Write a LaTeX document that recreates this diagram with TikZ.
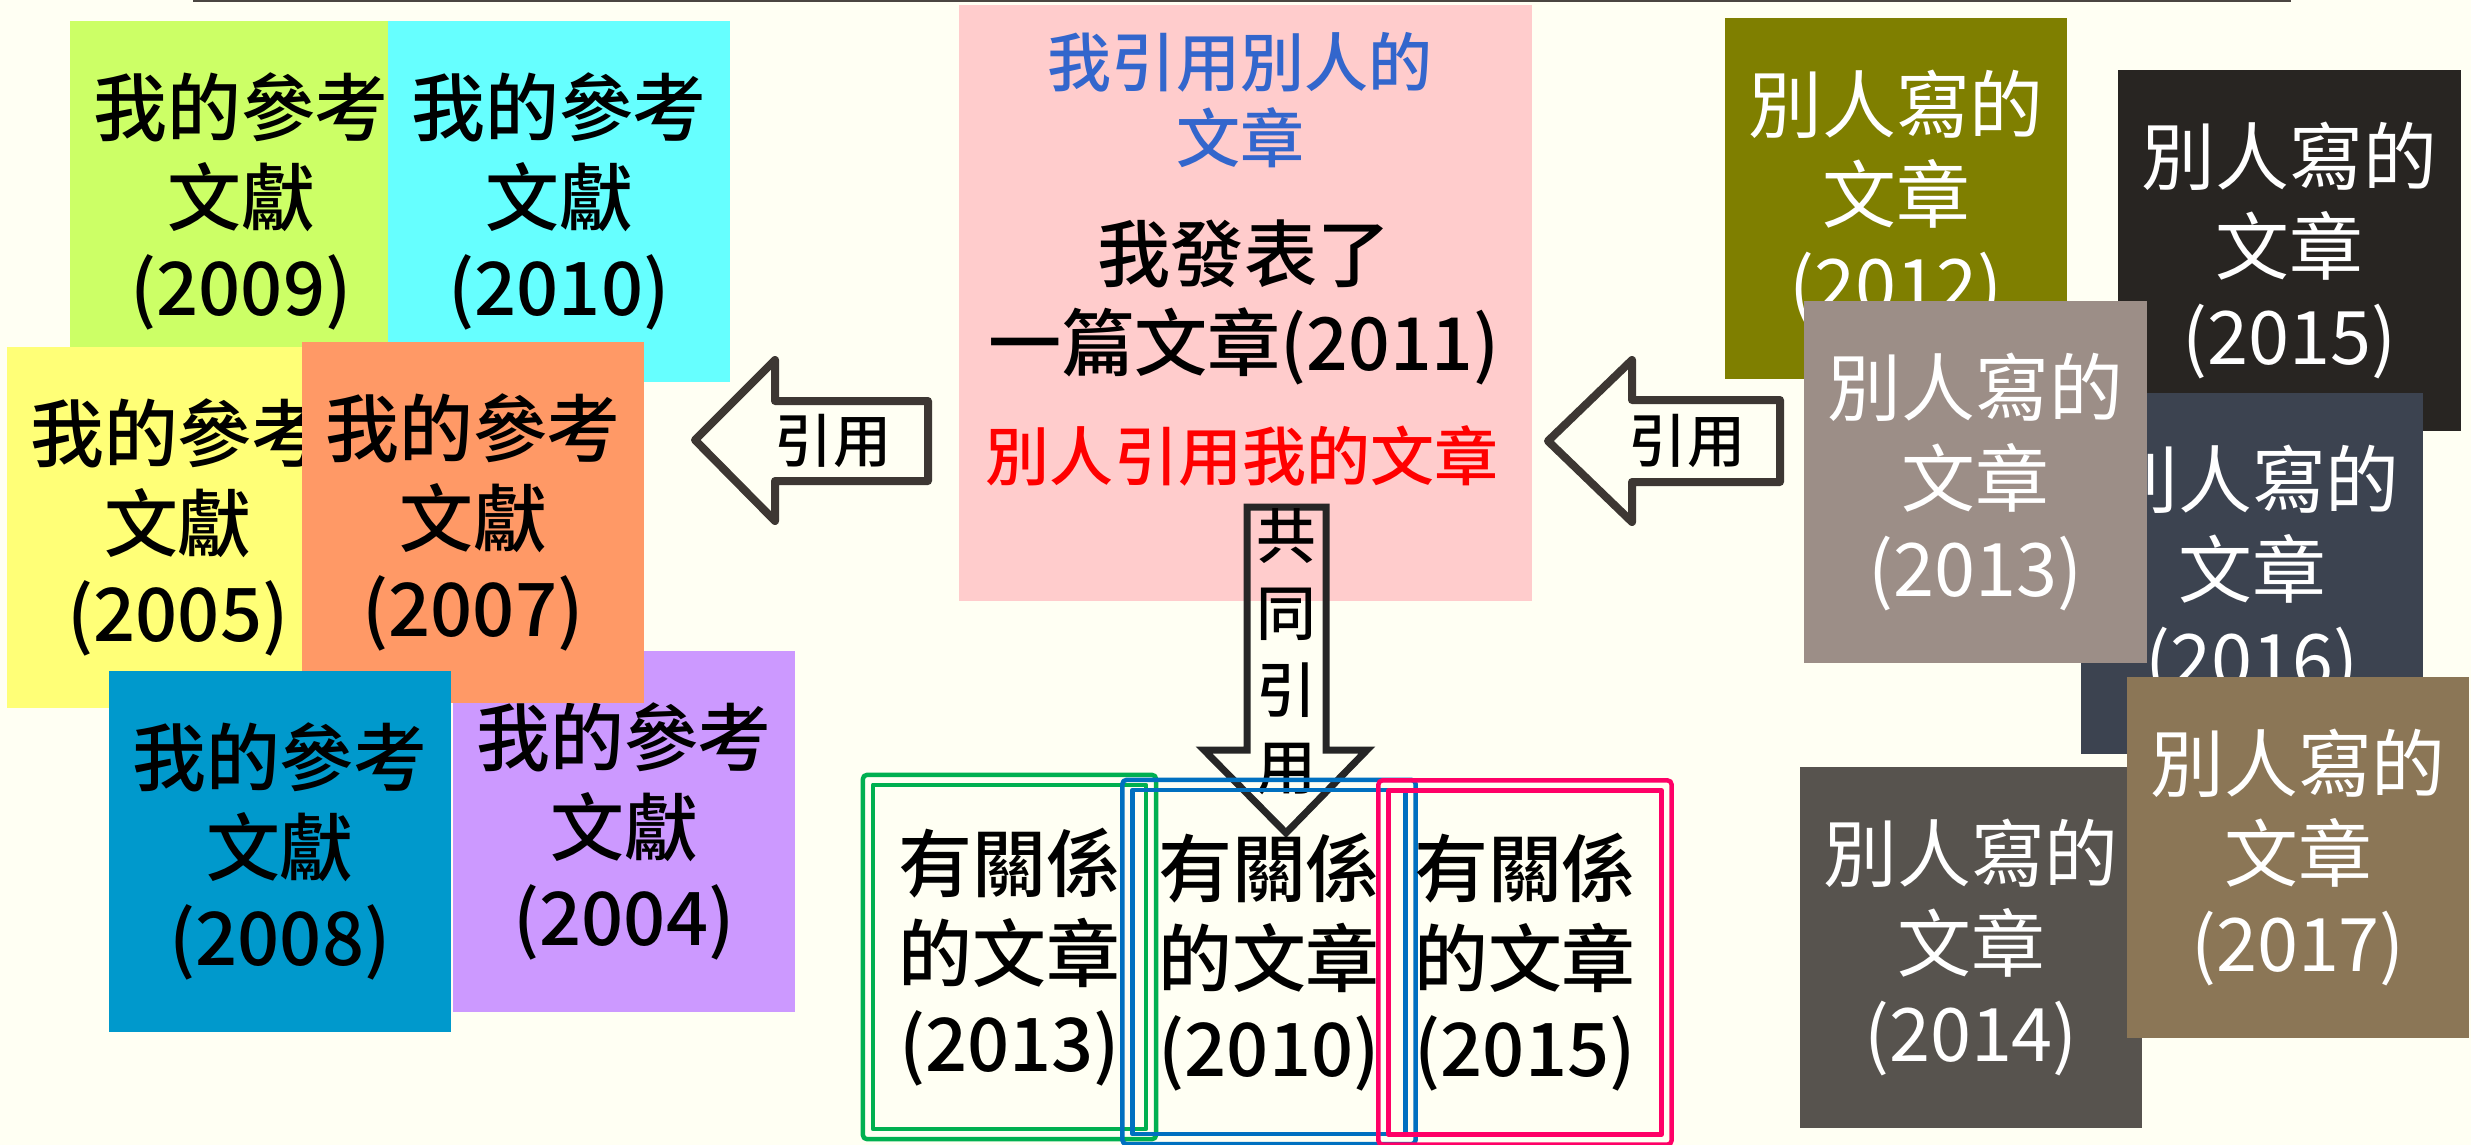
\documentclass[tikz,border=0pt]{standalone}
\usepackage{fontspec}
\setmainfont{Noto Sans CJK TC}
\newfontfamily\medfont{Noto Sans CJK TC Medium}
\usetikzlibrary{positioning}

\definecolor{bgivory}{HTML}{FFFFF3}
\definecolor{topline}{HTML}{4B4641}
\definecolor{c2009}{HTML}{CCFF66}
\definecolor{c2010}{HTML}{66FFFF}
\definecolor{c2005}{HTML}{FFFF77}
\definecolor{c2007}{HTML}{FF9966}
\definecolor{c2008}{HTML}{0099CC}
\definecolor{c2004}{HTML}{CC99FF}
\definecolor{pinkbox}{HTML}{FFCCCC}
\definecolor{citeblue}{HTML}{3366CC}
\definecolor{relgreen}{HTML}{00B050}
\definecolor{relblue}{HTML}{0070C0}
\definecolor{relpink}{HTML}{FF0066}
\definecolor{o2012}{HTML}{7F7F00}
\definecolor{o2015}{HTML}{282522}
\definecolor{o2013}{HTML}{9C8E87}
\definecolor{o2016}{HTML}{3C4350}
\definecolor{o2017}{HTML}{8B7656}
\definecolor{o2014}{HTML}{57534E}
\definecolor{arrowline}{HTML}{3D3733}
\definecolor{arrowdark}{HTML}{262626}

\begin{document}
\begin{tikzpicture}[x=0.01cm,y=-0.01cm,line join=round]
\tikzstyle{ref}=[rectangle, minimum width=3.42cm, minimum height=3.61cm, inner sep=0pt, align=center, font=\medfont\fontsize{21pt}{25.6pt}\selectfont]
\tikzstyle{other}=[ref, text=white, font=\fontsize{21pt}{25.6pt}\selectfont]
\tikzstyle{rel}=[draw, line width=0.045cm, outer sep=0pt, rounded corners=0.04cm, minimum width=2.93cm, minimum height=3.64cm, inner sep=0pt, align=center, font=\medfont\fontsize{21pt}{25.6pt}\selectfont]
\tikzstyle{blk}=[draw=arrowline, line width=0.08cm]
\tikzstyle{cite}=[inner sep=0pt, font=\medfont\fontsize{16.5pt}{20pt}\selectfont]

\fill[bgivory] (0,0) rectangle (2471,1145);
\useasboundingbox (0,0) rectangle (2471,1145);
\draw[topline, line width=0.02cm] (193,1) -- (2291,1);

% my references
\node[ref, fill=c2009]	(r2009)	at (241,201.5)	{我的參考\\文獻\\(2009)};
\node[ref, fill=c2010]	(r2010)	at (559,201.5)	{我的參考\\文獻\\(2010)};
\node[ref, fill=c2004]	(r2004)	at (624,831.5)	{我的參考\\文獻\\(2004)};
\node[ref, fill=c2005]	(r2005)	at (178,527.5)	{我的參考\\文獻\\(2005)};
\node[ref, fill=c2007]	(r2007)	at (473,522.5)	{我的參考\\文獻\\(2007)};
\node[ref, fill=c2008]	(r2008)	at (280,851.5)	{我的參考\\文獻\\(2008)};

% my paper
\node[fill=pinkbox, minimum width=5.73cm, minimum height=5.96cm, inner sep=0pt]	(mine)	at (1245.5,303)	{};
\node[text=citeblue, align=center, font=\medfont\fontsize{18.2pt}{21.6pt}\selectfont]	(icite)	at (1240,100)	{我引用別人的\\文章};
\node[align=center, font=\medfont\fontsize{20.8pt}{25.3pt}\selectfont]	(pub)	at (1244,302)	{我發表了\\一篇文章(2011)};
\node[text=red, font=\medfont\fontsize{18.2pt}{21.6pt}\selectfont]	(cited)	at (1242,456)	{別人引用我的文章};

% others' papers
\node[other, fill=o2012]	(o2012)	at (1896,198.5)	{別人寫的\\文章\\(2012)};
\node[other, fill=o2015]	(o2015)	at (2289.5,250.5)	{別人寫的\\文章\\(2015)};
\node[other, fill=o2016]	(o2016)	at (2252,573.5)	{別人寫的\\文章\\(2016)};
\node[other, fill=o2013]	(o2013)	at (1975.5,482)	{別人寫的\\文章\\(2013)};
\node[other, fill=o2014]	(o2014)	at (1971,947.5)	{別人寫的\\文章\\(2014)};
\node[other, fill=o2017]	(o2017)	at (2298,857.5)	{別人寫的\\文章\\(2017)};

% block arrows
\draw[blk] (695,440) -- (775,360) -- (775,401) -- (928,401) -- (928,481) -- (775,481) -- (775,521) -- cycle;
\node[cite]	(citeL)	at (833,441)	{引用};
\draw[blk] (1548,441) -- (1632,360) -- (1632,400) -- (1780,400) -- (1780,482) -- (1632,482) -- (1632,522) -- cycle;
\node[cite]	(citeR)	at (1687,441)	{引用};
\draw[draw=arrowdark, line width=0.07cm, line join=miter] (1247,507) -- (1326,507) -- (1326,750) -- (1367,750) -- (1286,833) -- (1204,750) -- (1247,750) -- cycle;
\node[cite, align=center, font=\medfont\fontsize{17pt}{21.9pt}\selectfont]	(cocite)	at (1286,652)	{共\\同\\引\\用};

% related papers
\node[rel, draw=relgreen]	(rel2013)	at (1009.5,957)	{有關係\\的文章\\(2013)};
\draw[relgreen, line width=0.045cm] ([xshift=0.1cm,yshift=-0.1cm]rel2013.north west) rectangle ([xshift=-0.1cm,yshift=0.1cm]rel2013.south east);
\node[rel, draw=relblue]	(rel2010)	at (1269,962)	{有關係\\的文章\\(2010)};
\draw[relblue, line width=0.045cm] ([xshift=0.1cm,yshift=-0.1cm]rel2010.north west) rectangle ([xshift=-0.1cm,yshift=0.1cm]rel2010.south east);
\node[rel, draw=relpink]	(rel2015)	at (1525,962.5)	{有關係\\的文章\\(2015)};
\draw[relpink, line width=0.045cm] ([xshift=0.1cm,yshift=-0.1cm]rel2015.north west) rectangle ([xshift=-0.1cm,yshift=0.1cm]rel2015.south east);
\end{tikzpicture}
\end{document}
